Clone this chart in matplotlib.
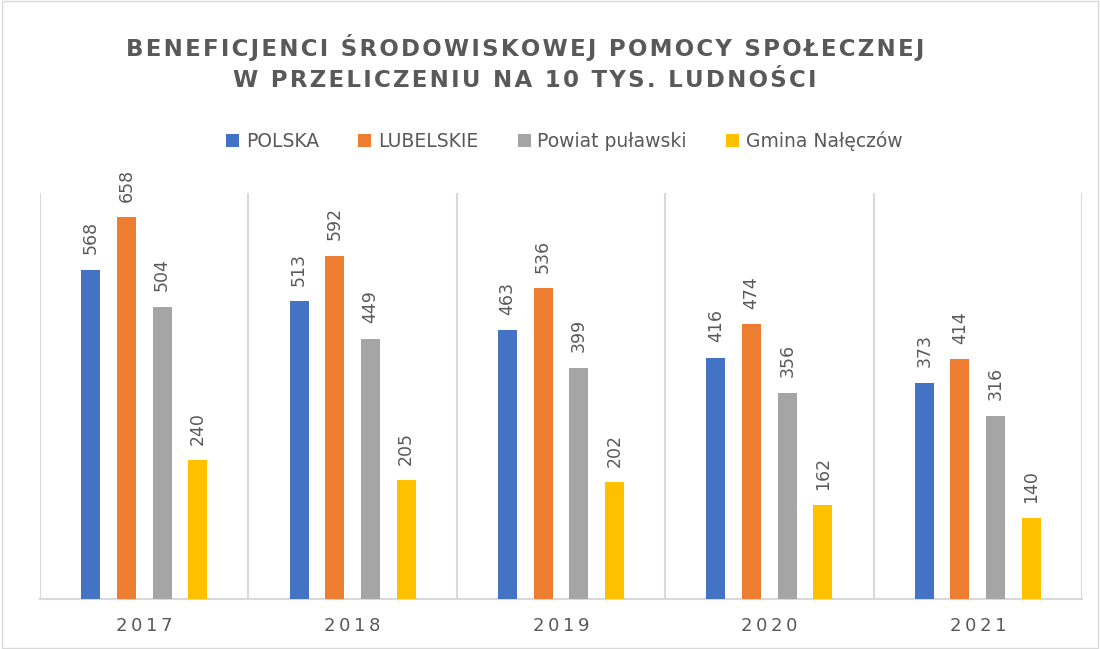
import numpy as np
import matplotlib.pyplot as plt
from matplotlib.patches import Rectangle

# dane
lata = ['2017', '2018', '2019', '2020', '2021']
serie = ['POLSKA', 'LUBELSKIE', 'Powiat puławski', 'Gmina Nałęczów']
polska = [568, 513, 463, 416, 373]
lubelskie = [658, 592, 536, 474, 414]
powiat = [504, 449, 399, 356, 316]
gmina = [240, 205, 202, 162, 140]
kolory = ['#4472C4', '#ED7D31', '#A5A5A5', '#FFC000']

tekst = '#595959'
plt.rcParams['font.family'] = ['DejaVu Sans']


def rozstaw(s, sep='\u200a'):
    # rozstrzelenie liter
    return sep.join(s)


fig = plt.figure(figsize=(11, 6.49), dpi=100)
ax = fig.add_axes([0.0364, 0.077, 0.9472, 0.6256])

x = np.arange(len(lata))
szer = 0.091
odstep = 0.171
for i, (nazwa, wart) in enumerate(zip(serie, [polska, lubelskie, powiat, gmina])):
    poz = x + (i - 1.5) * odstep
    ax.bar(poz, wart, width=szer, color=kolory[i], label=nazwa, zorder=3)
    for px, v in zip(poz, wart):
        ax.annotate(str(v), (px, v), xytext=(0, 11), textcoords='offset points',
                    rotation=90, ha='center', va='bottom', fontsize=12.5, color=tekst)

ax.set_xlim(-0.5, len(lata) - 0.5)
ax.set_ylim(0, 700)
ax.set_yticks([])
ax.set_xticks(x)
ax.set_xticklabels([rozstaw(r, '\u2009') for r in lata], fontsize=13, color=tekst)
ax.tick_params(axis='x', length=0, pad=13)
for s in ['top', 'right', 'left']:
    ax.spines[s].set_visible(False)
ax.spines['bottom'].set_color('#D9D9D9')
ax.spines['bottom'].set_linewidth(1.5)
for g in np.arange(-0.5, len(lata), 1.0):
    ax.axvline(g, color='#D9D9D9', lw=1.5, zorder=1)

fig.text(0.477, 0.927, rozstaw('BENEFICJENCI ŚRODOWISKOWEJ POMOCY SPOŁECZNEJ'),
         ha='center', va='center', fontsize=16.5, fontweight='bold', color=tekst)
fig.text(0.477, 0.876, rozstaw('W PRZELICZENIU NA 10 TYS. LUDNOŚCI'),
         ha='center', va='center', fontsize=16.5, fontweight='bold', color=tekst)

fig.legend(loc='center', bbox_to_anchor=(0.513, 0.783), ncol=4, frameon=False,
           fontsize=13.5, labelcolor=tekst, handlelength=0.7, handleheight=0.7,
           handletextpad=0.35, columnspacing=2.1)

fig.patches.append(Rectangle((0.002, 0.002), 0.996, 0.996, transform=fig.transFigure,
                             fill=False, edgecolor='#D9D9D9', lw=1))

fig.savefig('out.png', dpi=100)
